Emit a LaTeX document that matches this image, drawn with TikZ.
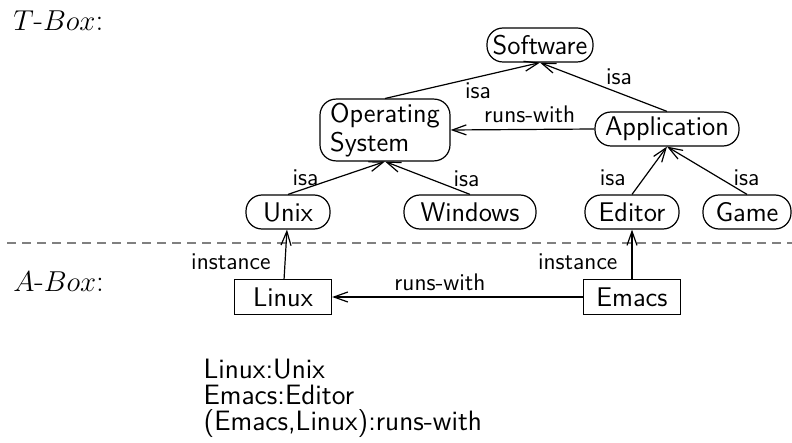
\documentclass[tikz,border=0pt]{standalone}
\usepackage{amsmath}
\usetikzlibrary{arrows.meta}
\begin{document}
\begin{tikzpicture}[x=0.5pt,y=-0.5pt,line width=0.6pt,every node/.style={font=\sffamily}]
\tikzset{concept/.style = {shape=rectangle,rounded corners=8pt,draw,align=left,font=\sffamily\fontsize{13.5}{14.5}\selectfont,inner xsep=2pt,inner ysep=2pt,minimum height=17pt}}
\tikzset{indiv/.style = {shape=rectangle,draw,font=\sffamily\fontsize{13.5}{14.5}\selectfont,minimum height=17.5pt,minimum width=48.5pt}}
\tikzset{edge/.style = {->,>={Straight Barb[length=7pt,width=5pt]}}}
\tikzset{lbl/.style = {font=\sffamily\large,inner sep=1pt}}
\useasboundingbox (0,0) rectangle (792,443);
% boxes
\node[anchor=west,font=\fontsize{15.5}{18}\selectfont] (tbox) at (6,21) {$T$-$Box$:};
\node[anchor=west,font=\fontsize{15.5}{18}\selectfont] (abox) at (6,282) {$A$-$Box$:};
\draw[dashed,gray,dash pattern=on 4.5pt off 3pt] (7,243) -- (792,243);
% t-box
\node[concept,minimum width=53pt] (sw) at (540,45) {Software};
\node[concept,minimum width=65pt,minimum height=30pt] (os) at (385,130) {Operating\\System};
\node[concept,minimum width=72pt] (app) at (667,129) {Application};
\node[concept,minimum width=42pt] (unix) at (288,212) {Unix};
\node[concept,minimum width=66pt] (win) at (470,212) {Windows};
\node[concept,minimum width=47pt] (ed) at (632,212) {Editor};
\node[concept,minimum width=44pt] (game) at (747,212) {Game};
% a-box
\node[indiv] (linux) at (283,297) {Linux};
\node[indiv] (emacs) at (632,297) {Emacs};
\node[anchor=base west,align=left,font=\sffamily\fontsize{14}{13}\selectfont,inner sep=0pt] (facts) at (203,430) {Linux:Unix\\Emacs:Editor\\(Emacs,Linux):runs-with};
%edges
\draw[edge] (os.north) -- node[lbl,pos=0.5,below right] {isa} (sw.south);
\draw[edge] (app.north) -- node[lbl,pos=0.5,above right] {isa} (sw.south);
\draw[edge] (app.west) -- node[lbl,pos=0.45,above=2pt] {runs-with} (os.east);
\draw[edge] (unix.north) -- node[lbl,pos=0.3,above left=-2pt] {isa} (os.south);
\draw[edge] (win.north) -- node[lbl,pos=0.2,above right=-1pt] {isa} (os.south);
\draw[edge] (ed.north) -- node[lbl,pos=0.35,left=8pt] {isa} (app.south);
\draw[edge] (game.north) -- node[lbl,pos=0.35,right=6pt] {isa} (app.south);
\draw[edge] (linux) -- node[lbl,pos=0.35,left=6pt] {instance} (unix);
\draw[edge] (emacs) -- node[lbl,pos=0.35,left=6pt] {instance} (ed);
\draw[edge] (emacs) -- node[lbl,pos=0.57,above=2pt] {runs-with} (linux);
\end{tikzpicture}
\end{document}
